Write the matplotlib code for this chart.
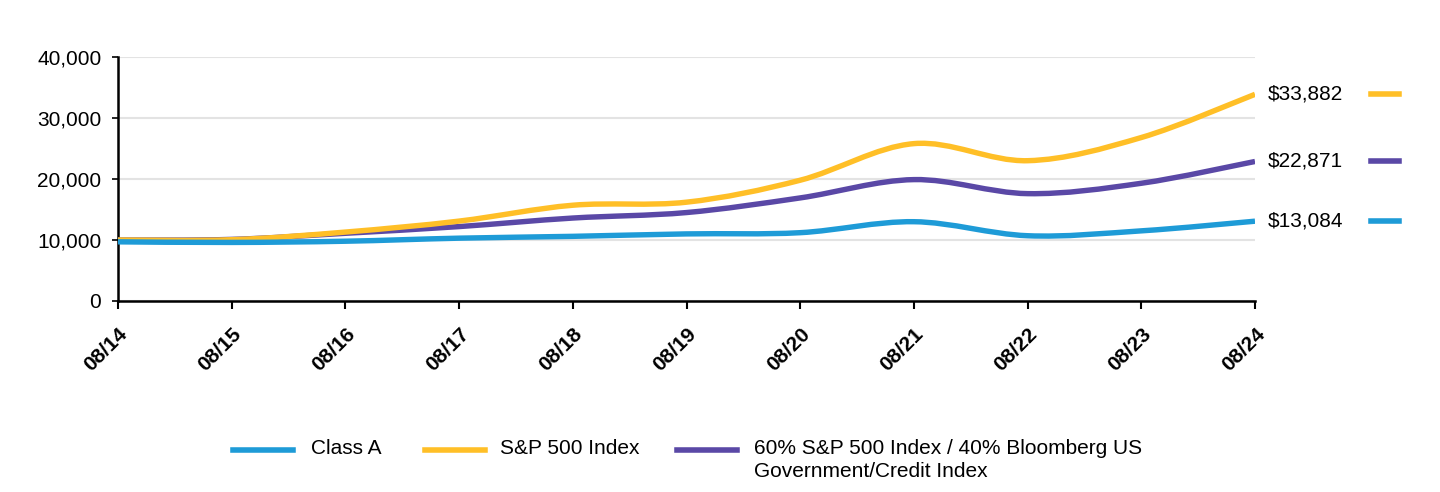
import numpy as np
import matplotlib
matplotlib.use("Agg")
import matplotlib.pyplot as plt
from matplotlib.path import Path
from matplotlib.patches import PathPatch
from matplotlib.lines import Line2D

plt.rcParams['font.family'] = ['Liberation Sans', 'DejaVu Sans']

# data
dates = ["08/14", "08/15", "08/16", "08/17", "08/18", "08/19", "08/20", "08/21", "08/22", "08/23", "08/24"]
class_a = [9700, 9600, 9800, 10300, 10600, 11000, 11200, 13000, 10700, 11500, 13084]
sp500 = [10000, 10050, 11300, 13100, 15700, 16200, 19800, 25800, 23000, 26800, 33882]
blend = [10000, 10100, 11100, 12200, 13600, 14500, 16900, 19900, 17600, 19300, 22871]

names = ["Class A", "S&P 500 Index", "60% S&P 500 Index / 40% Bloomberg US\nGovernment/Credit Index"]
colors = ["#1E9BD7", "#FFBF27", "#5A48A6"]
series = [class_a, sp500, blend]
end_labels = ["$13,084", "$33,882", "$22,871"]


def smooth_path(x, y, t=0.5):
    # Catmull-Rom style curve through the points, as cubic bezier segments
    x = np.asarray(x, float)
    y = np.asarray(y, float)
    verts = [(x[0], y[0])]
    codes = [Path.MOVETO]
    n = len(x)
    for i in range(n - 1):
        p0 = i - 1 if i > 0 else i
        p3 = i + 2 if i + 2 < n else i + 1
        d1 = ((x[i + 1] - x[p0]) * t / 3, (y[i + 1] - y[p0]) * t / 3)
        d2 = ((x[p3] - x[i]) * t / 3, (y[p3] - y[i]) * t / 3)
        verts += [(x[i] + d1[0], y[i] + d1[1]),
                  (x[i + 1] - d2[0], y[i + 1] - d2[1]),
                  (x[i + 1], y[i + 1])]
        codes += [Path.CURVE4] * 3
    return Path(verts, codes)


fig = plt.figure(figsize=(14.4, 4.92), dpi=100)
ax = fig.add_axes([118 / 1440, 1 - 301 / 492, (1255 - 118) / 1440, (301 - 57) / 492])

xs = np.arange(len(dates))
zorders = [5, 4, 3]
for vals, c, z in zip(series, colors, zorders):
    ax.add_patch(PathPatch(smooth_path(xs, vals), facecolor="none", edgecolor=c,
                           lw=3.9, capstyle="butt", zorder=z))

ax.set_xlim(0, len(dates) - 1)
ax.set_ylim(0, 40000)
ax.set_yticks([0, 10000, 20000, 30000, 40000])
ax.set_yticklabels([f"{v:,}" for v in [0, 10000, 20000, 30000, 40000]], fontsize=15)
ax.set_xticks(xs)
ax.set_xticklabels(dates, rotation=45, ha="right", rotation_mode="anchor",
                   fontsize=15, fontweight="bold")
ax.tick_params(axis="x", length=6, width=1.5, direction="out", pad=11)
ax.tick_params(axis="y", length=4, width=1.2, direction="out", pad=8)
ax.grid(axis="y", color="#e3e3e3", lw=1.5)
ax.set_axisbelow(True)
for s in ["top", "right"]:
    ax.spines[s].set_visible(False)
for s in ["left", "bottom"]:
    ax.spines[s].set_linewidth(1.8)
    ax.spines[s].set_color("black")

# end-value labels with colored dashes on the right
trans = ax.get_yaxis_transform()
for vals, lab, c in zip(series, end_labels, colors):
    ax.text(1.011, vals[-1], lab, transform=trans, fontsize=15, ha="left", va="center")
    ax.add_line(Line2D([1.1016, 1.127], [vals[-1], vals[-1]], transform=trans,
                       color=c, lw=4, clip_on=False))

# legend drawn by hand so the swatch lines up with the first text line
leg_x = [(233, 311), (425, 500), (677, 754)]
for (hx, tx), name, c in zip(leg_x, names, colors):
    fig.add_artist(Line2D([hx / 1440, (hx + 60) / 1440], [1 - 450 / 492] * 2,
                          color=c, lw=4, transform=fig.transFigure))
    fig.text(tx / 1440, 1 - 439 / 492, name, fontsize=15, ha="left", va="top",
             linespacing=1.25)

fig.savefig("out.png", dpi=100)
